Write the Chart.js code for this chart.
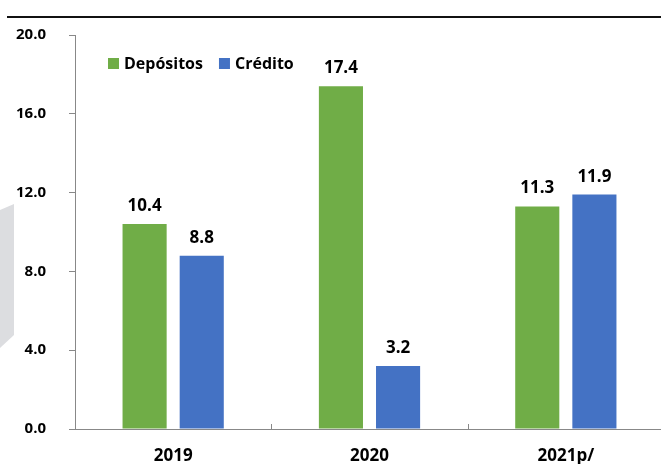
<!DOCTYPE html>
<html>
<head>
<meta charset="utf-8">
<script src="https://cdn.jsdelivr.net/npm/chart.js@4.4.1/dist/chart.umd.min.js"></script>
<style>
  html, body { margin: 0; padding: 0; background: #fff; overflow: hidden; width: 661px; height: 464px; }
  #wrap { position: absolute; left: 0; top: 0; width: 664px; height: 464px; }
  #topline { position: absolute; left: 7px; top: 16px; width: 654px; height: 2px; background: #111; }
  #wm { position: absolute; left: 0; top: 204px; width: 14px; height: 144px; background: #dcdde0;
        clip-path: polygon(0 6px, 14px 0, 14px 131px, 0 144px); }
</style>
</head>
<body>
<div id="wm"></div>
<div id="topline"></div>
<div id="wrap"><canvas id="c" width="664" height="464"></canvas></div>
<script>
const categories = ['2019', '2020', '2021p/'];
const depositos = [10.4, 17.4, 11.3];
const credito = [8.8, 3.2, 11.9];
const seriesNames = ['Depósitos', 'Crédito'];
const yTicks = [0, 4, 8, 12, 16, 20];

const FONT = '"Open Sans", "Noto Sans", sans-serif';
const GREEN = '#70ad47';
const BLUE = '#4472c4';

const overlay = {
  id: 'overlay',
  afterDatasetsDraw(chart) {
    const ctx = chart.ctx;
    ctx.save();
    ctx.font = 'bold 17px ' + FONT;
    ctx.fillStyle = '#000';
    ctx.textAlign = 'center';
    ctx.textBaseline = 'alphabetic';
    chart.data.datasets.forEach((ds, di) => {
      const meta = chart.getDatasetMeta(di);
      meta.data.forEach((bar, i) => {
        ctx.fillText(ds.data[i].toFixed(1), bar.x, bar.y - 13);
      });
    });
    const xs = chart.scales.x;
    const bottom = chart.chartArea.bottom;
    ctx.strokeStyle = '#888';
    ctx.lineWidth = 1;
    for (let i = 1; i < categories.length; i++) {
      const x = Math.round((xs.getPixelForValue(i - 1) + xs.getPixelForValue(i)) / 2) + 0.5;
      ctx.beginPath();
      ctx.moveTo(x, bottom - 5);
      ctx.lineTo(x, bottom);
      ctx.stroke();
    }
    ctx.font = 'bold 16px ' + FONT;
    ctx.textAlign = 'left';
    ctx.textBaseline = 'middle';
    let lx = 108;
    const ly = 63;
    chart.data.datasets.forEach((ds, di) => {
      ctx.fillStyle = ds.backgroundColor;
      ctx.fillRect(lx, ly - 5, 11, 11);
      ctx.fillStyle = '#000';
      ctx.fillText(ds.label, lx + 16, ly + 1);
      lx += 16 + ctx.measureText(ds.label).width + 16;
    });
    ctx.restore();
  }
};

new Chart(document.getElementById('c'), {
  type: 'bar',
  data: {
    labels: categories,
    datasets: [
      { label: seriesNames[0], data: depositos, backgroundColor: GREEN },
      { label: seriesNames[1], data: credito, backgroundColor: BLUE }
    ]
  },
  options: {
    responsive: false,
    animation: false,
    devicePixelRatio: 1,
    layout: { padding: { top: 35, right: 0, bottom: 0, left: 0 } },
    datasets: { bar: { categoryPercentage: 0.582, barPercentage: 0.772 } },
    plugins: { legend: { display: false }, tooltip: { enabled: false } },
    scales: {
      x: {
        afterFit(scale) { scale.height = 35; },
        grid: { display: false, drawTicks: false },
        border: { display: true, color: '#888', width: 1 },
        ticks: { color: '#000', font: { family: FONT, size: 17, weight: 'bold' }, padding: 17 }
      },
      y: {
        min: 0, max: 20,
        afterFit(scale) { scale.width = 75; },
        afterBuildTicks(scale) { scale.ticks = yTicks.map(v => ({ value: v })); },
        grid: { drawOnChartArea: false, drawTicks: true, tickLength: 6, color: '#888' },
        border: { display: true, color: '#888', width: 1 },
        ticks: { color: '#000', font: { family: FONT, size: 15, weight: 'bold' }, padding: 23,
                 callback: v => Number(v).toFixed(1) }
      }
    }
  },
  plugins: [overlay]
});
</script>
</body>
</html>
